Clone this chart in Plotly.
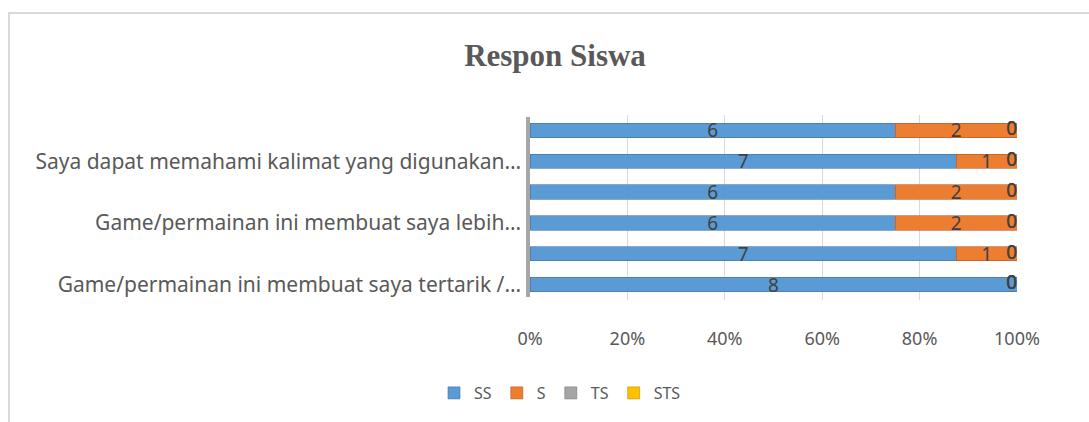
import plotly.graph_objects as go

categories = [
    "Game/permainan ini membuat saya tertarik /…",
    "Pernyataan 2",
    "Game/permainan ini membuat saya lebih…",
    "Pernyataan 4",
    "Saya dapat memahami kalimat yang digunakan…",
    "Pernyataan 6",
]
shown_labels = [categories[0], categories[2], categories[4]]
series_names = ["SS", "S", "TS", "STS"]
ss = [8, 7, 6, 6, 7, 6]
s = [0, 1, 2, 2, 1, 2]
ts = [0, 0, 0, 0, 0, 0]
sts = [0, 0, 0, 0, 0, 0]
colors = ["#5b9bd5", "#ed7d31", "#a5a5a5", "#ffc000"]
edge_colors = ["#41719c", "#ae5a21", "#787878", "#bc8c00"]
tick_vals = [0, 20, 40, 60, 80, 100]
tick_text = ["0%", "20%", "40%", "60%", "80%", "100%"]

series = [ss, s, ts, sts]
totals = [sum(v) for v in zip(*series)]

FONT = "Noto Sans"
LBL = dict(family=FONT, size=19, color="#404040")
fig = go.Figure()
for name, vals, col, ec in zip(series_names, series, colors, edge_colors):
    fig.add_trace(go.Bar(
        y=categories, x=vals, name=name, orientation="h",
        marker=dict(color=col, line=dict(color=ec, width=0.6)),
        text=[str(v) if v != 0 else "" for v in vals],
        textposition="inside", insidetextanchor="middle",
        textangle=0, constraintext="none",
        textfont=LBL,
        width=0.46,
    ))

# zero-valued labels sitting at the end of their stacks
for idx in (1, 2, 3):
    vals = series[idx]
    xs, ys, tx = [], [], []
    for i, c in enumerate(categories):
        if vals[i] == 0:
            cum = sum(series[k][i] for k in range(idx + 1))
            xs.append(cum / totals[i] * 100)
            ys.append(c)
            tx.append(str(vals[i]))
    fig.add_trace(go.Scatter(
        x=xs, y=ys, mode="text", text=tx, textposition="middle left",
        textfont=LBL, showlegend=False, hoverinfo="skip", cliponaxis=False,
    ))

L, R, T, B = 530, 1017, 115, 300
W, H = 1089, 422
pw, ph = R - L, B - T

def px(x):
    return (x - L) / pw

def py(y):
    return (B - y) / ph

fig.update_layout(
    width=W, height=H,
    margin=dict(l=L, r=W - R, t=T, b=H - B),
    barmode="stack", barnorm="percent",
    paper_bgcolor="white", plot_bgcolor="white",
    title=dict(text="<b>Respon Siswa</b>", x=555 / W, xanchor="center",
               y=1 - 55 / H, yanchor="middle",
               font=dict(family="Liberation Serif", size=31, color="#595959")),
    legend=dict(orientation="h", x=px(560), xanchor="center", y=py(393), yanchor="middle",
                font=dict(family=FONT, size=16, color="#595959"), itemwidth=30,
                traceorder="normal"),
    showlegend=True,
    xaxis=dict(range=[0, 100], tickvals=tick_vals, ticktext=tick_text,
               showgrid=True, gridcolor="#d9d9d9", gridwidth=1, zeroline=False,
               showline=False, ticks="", ticklabelstandoff=26,
               tickfont=dict(family=FONT, size=18, color="#595959")),
    yaxis=dict(categoryorder="array", categoryarray=categories,
               tickvals=shown_labels, range=[-0.5, 5.5],
               showgrid=False, zeroline=False, showline=False, ticks="",
               ticklabelstandoff=8,
               tickfont=dict(family=FONT, size=21, color="#595959")),
    shapes=[
        dict(type="rect", xref="paper", yref="paper",
             x0=px(9), x1=px(1100), y0=py(440), y1=py(13),
             line=dict(color="#d9d9d9", width=2), fillcolor="rgba(0,0,0,0)", layer="below"),
        dict(type="line", xref="paper", yref="paper",
             x0=px(528), x1=px(528), y0=py(297), y1=py(117),
             line=dict(color="#a6a6a6", width=4), layer="below"),
    ],
)

fig.write_html("out.html", config={"displayModeBar": False},
               post_script="document.body.style.margin='0';")
